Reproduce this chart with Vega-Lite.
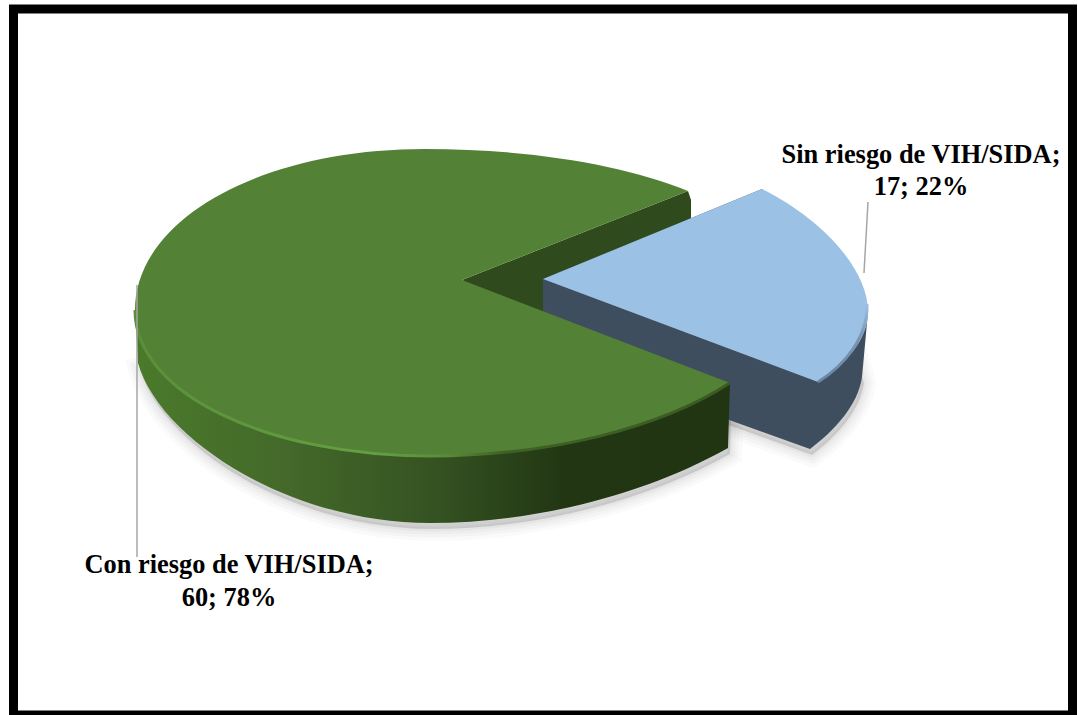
{
  "$schema": "https://vega.github.io/schema/vega-lite/v6.json",
  "width": 1059,
  "height": 706,
  "padding": {"left": 13.5, "top": 9, "right": 5.5, "bottom": 0},
  "autosize": "none",
  "background": "#ffffff",
  "view": {"fill": "#ffffff", "stroke": "#000000", "strokeWidth": 9},
  "data": {
    "values": [
      {"categoria": "Con riesgo de VIH/SIDA", "casos": 60, "porcentaje": 78, "etiqueta": ["Con riesgo de VIH/SIDA;", "60; 78%"]},
      {"categoria": "Sin riesgo de VIH/SIDA", "casos": 17, "porcentaje": 22, "etiqueta": ["Sin riesgo de VIH/SIDA;", "17; 22%"]}
    ]
  },
  "layer": [
    {
      "description": "soft drop shadow, outermost ring",
      "mark": {"type": "point", "filled": true, "opacity": 1, "fill": "#000000", "fillOpacity": 0.03, "stroke": "#000000", "strokeOpacity": 0.02, "strokeWidth": 24, "size": 4, "xOffset": 2, "yOffset": 6},
      "encoding": {"shape": {"field": "categoria", "type": "nominal", "legend": null, "scale": {"domain": ["Con riesgo de VIH/SIDA", "Sin riesgo de VIH/SIDA"], "range": ["M-405,1 C-383,78 -253,161 -113,161 C-3,161 107,130 185,86 L187,21 L-113,-62 Z", "M0,-9 L267,87 C292,68 315,43 319,15 L300,-50 L0,-9 Z"]}}}
    },
    {
      "description": "soft drop shadow, second ring",
      "mark": {"type": "point", "filled": true, "opacity": 1, "fill": "#000000", "fillOpacity": 0.03, "stroke": "#000000", "strokeOpacity": 0.025, "strokeWidth": 17, "size": 4, "xOffset": 2, "yOffset": 6},
      "encoding": {"shape": {"field": "categoria", "type": "nominal", "legend": null, "scale": {"domain": ["Con riesgo de VIH/SIDA", "Sin riesgo de VIH/SIDA"], "range": ["M-405,1 C-383,78 -253,161 -113,161 C-3,161 107,130 185,86 L187,21 L-113,-62 Z", "M0,-9 L267,87 C292,68 315,43 319,15 L300,-50 L0,-9 Z"]}}}
    },
    {
      "description": "soft drop shadow, third ring",
      "mark": {"type": "point", "filled": true, "opacity": 1, "fill": "#000000", "fillOpacity": 0.03, "stroke": "#000000", "strokeOpacity": 0.025, "strokeWidth": 11, "size": 4, "xOffset": 2, "yOffset": 6},
      "encoding": {"shape": {"field": "categoria", "type": "nominal", "legend": null, "scale": {"domain": ["Con riesgo de VIH/SIDA", "Sin riesgo de VIH/SIDA"], "range": ["M-405,1 C-383,78 -253,161 -113,161 C-3,161 107,130 185,86 L187,21 L-113,-62 Z", "M0,-9 L267,87 C292,68 315,43 319,15 L300,-50 L0,-9 Z"]}}}
    },
    {
      "description": "soft drop shadow, inner ring",
      "mark": {"type": "point", "filled": true, "opacity": 1, "fill": "#000000", "fillOpacity": 0.03, "stroke": "#000000", "strokeOpacity": 0.03, "strokeWidth": 5, "size": 4, "xOffset": 2, "yOffset": 6},
      "encoding": {"shape": {"field": "categoria", "type": "nominal", "legend": null, "scale": {"domain": ["Con riesgo de VIH/SIDA", "Sin riesgo de VIH/SIDA"], "range": ["M-405,1 C-383,78 -253,161 -113,161 C-3,161 107,130 185,86 L187,21 L-113,-62 Z", "M0,-9 L267,87 C292,68 315,43 319,15 L300,-50 L0,-9 Z"]}}}
    },
    {
      "description": "green slice, inner wall seen through the gap",
      "transform": [{"filter": "datum.casos === 60"}],
      "mark": {"type": "point", "filled": true, "opacity": 1, "fill": "#2f4a1d", "size": 4},
      "encoding": {"shape": {"value": "M-81,-82 L145,-171 L148,-162 L148,-100 L0,-32 Z"}}
    },
    {
      "description": "blue slice, side wall",
      "transform": [{"filter": "datum.casos === 17"}],
      "mark": {"type": "point", "filled": true, "opacity": 1, "fill": "#3e4e5f", "size": 4},
      "encoding": {"shape": {"value": "M0,-83 L0,-9 L267,87 C292,68 315,43 319,15 L325,-50 L219,-173 Z"}}
    },
    {
      "description": "blue slice, top face",
      "transform": [{"filter": "datum.casos === 17"}],
      "mark": {"type": "point", "filled": true, "opacity": 1, "fill": "#9bc2e5", "size": 4},
      "encoding": {"shape": {"value": "M0,-83 L219,-173 C272,-147 325,-97 325,-50 C325,-22 302,3 275,20 Z"}}
    },
    {
      "description": "blue slice, bevel along the rim, fading in from the top",
      "transform": [{"filter": "datum.casos === 17"}],
      "mark": {
        "type": "point", "filled": false, "opacity": 1, "strokeWidth": 3, "size": 4,
        "stroke": {
          "gradient": "linear", "x1": 0, "y1": 0, "x2": 0, "y2": 1,
          "stops": [
            {"offset": 0, "color": "#9bc2e5"},
            {"offset": 0.4, "color": "#7896b5"},
            {"offset": 1, "color": "#6a86a3"}
          ]
        }
      },
      "encoding": {"shape": {"value": "M324,-58 C325,-25 302,3 275,20"}}
    },
    {
      "description": "green slice, curved side wall",
      "transform": [{"filter": "datum.casos === 60"}],
      "mark": {
        "type": "point", "filled": true, "opacity": 1, "size": 4,
        "fill": {
          "gradient": "linear", "x1": 0, "y1": 0, "x2": 1, "y2": 0,
          "stops": [
            {"offset": 0, "color": "#4a7a2b"},
            {"offset": 0.25, "color": "#44692a"},
            {"offset": 0.5, "color": "#355322"},
            {"offset": 0.72, "color": "#223613"},
            {"offset": 1, "color": "#223512"}
          ]
        }
      },
      "encoding": {"shape": {"value": "M-408,-52 L-405,1 C-383,78 -253,161 -113,161 C-3,161 107,130 185,86 L187,21 L-113,-62 Z"}}
    },
    {
      "description": "green slice, top face",
      "transform": [{"filter": "datum.casos === 60"}],
      "mark": {"type": "point", "filled": true, "opacity": 1, "fill": "#538135", "size": 4},
      "encoding": {"shape": {"value": "M145,-171 C82,-197 -13,-213 -118,-213 C-283,-213 -408,-142 -408,-52 C-408,33 -273,94 -113,94 C7,94 117,66 187,21 L-81,-82 Z"}}
    },
    {
      "description": "green slice, rim from lit on the left to shaded on the right",
      "transform": [{"filter": "datum.casos === 60"}],
      "mark": {
        "type": "point", "filled": false, "opacity": 1, "strokeWidth": 3, "size": 4,
        "stroke": {
          "gradient": "linear", "x1": 0, "y1": 0, "x2": 1, "y2": 0,
          "stops": [
            {"offset": 0, "color": "#5a8f3a"},
            {"offset": 0.4, "color": "#64a042"},
            {"offset": 0.52, "color": "#5a8d3a"},
            {"offset": 0.62, "color": "#3f6125"},
            {"offset": 1, "color": "#3a5a22"}
          ]
        }
      },
      "encoding": {"shape": {"value": "M-408,-52 C-408,33 -273,94 -113,94 C7,94 117,66 187,21"}}
    },
    {
      "description": "leader line of the green slice",
      "transform": [{"filter": "datum.casos === 60"}],
      "mark": {"type": "point", "filled": false, "opacity": 1, "stroke": "#a6a6a6", "strokeWidth": 1.5, "size": 4},
      "encoding": {"shape": {"value": "M-406,-77 L-406,195"}}
    },
    {
      "description": "leader line of the blue slice",
      "transform": [{"filter": "datum.casos === 17"}],
      "mark": {"type": "point", "filled": false, "opacity": 1, "stroke": "#a6a6a6", "strokeWidth": 1.5, "size": 4},
      "encoding": {"shape": {"value": "M325,-160 L321,-89"}}
    },
    {
      "description": "label of the green slice",
      "transform": [{"filter": "datum.casos === 60"}],
      "mark": {"type": "text", "font": "Liberation Serif", "fontWeight": "bold", "fontSize": 26.4, "lineHeight": 33, "align": "center", "baseline": "middle", "color": "#000000", "dx": -314, "dy": 203},
      "encoding": {"text": {"field": "etiqueta"}}
    },
    {
      "description": "label of the blue slice",
      "transform": [{"filter": "datum.casos === 17"}],
      "mark": {"type": "text", "font": "Liberation Serif", "fontWeight": "bold", "fontSize": 26.4, "lineHeight": 32, "align": "center", "baseline": "middle", "color": "#000000", "dx": 378, "dy": -207},
      "encoding": {"text": {"field": "etiqueta"}}
    }
  ]
}
